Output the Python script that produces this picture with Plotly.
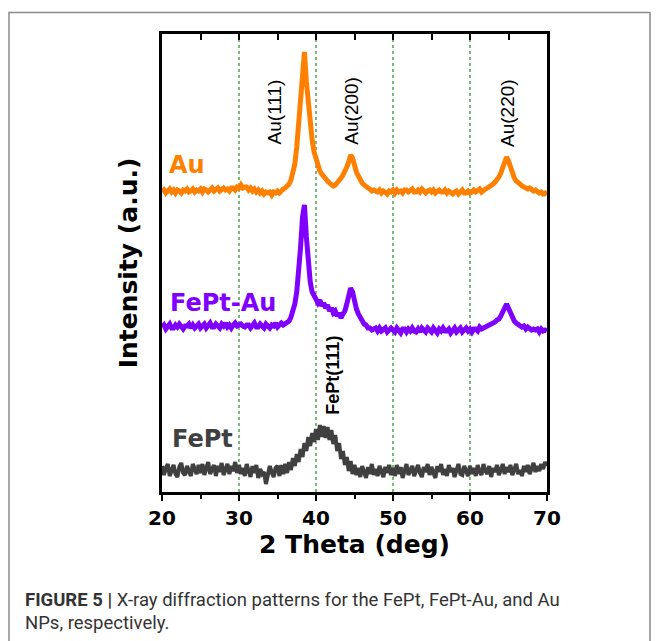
import plotly.graph_objects as go

# 2-theta grid (deg), 0.25 deg step
two_theta = [
    20.00, 20.25, 20.50, 20.75, 21.00, 21.25, 21.50, 21.75, 22.00, 22.25, 22.50, 22.75, 23.00, 23.25, 23.50, 23.75, 24.00, 24.25, 24.50, 24.75,
    25.00, 25.25, 25.50, 25.75, 26.00, 26.25, 26.50, 26.75, 27.00, 27.25, 27.50, 27.75, 28.00, 28.25, 28.50, 28.75, 29.00, 29.25, 29.50, 29.75,
    30.00, 30.25, 30.50, 30.75, 31.00, 31.25, 31.50, 31.75, 32.00, 32.25, 32.50, 32.75, 33.00, 33.25, 33.50, 33.75, 34.00, 34.25, 34.50, 34.75,
    35.00, 35.25, 35.50, 35.75, 36.00, 36.25, 36.50, 36.75, 37.00, 37.25, 37.50, 37.75, 38.00, 38.25, 38.50, 38.75, 39.00, 39.25, 39.50, 39.75,
    40.00, 40.25, 40.50, 40.75, 41.00, 41.25, 41.50, 41.75, 42.00, 42.25, 42.50, 42.75, 43.00, 43.25, 43.50, 43.75, 44.00, 44.25, 44.50, 44.75,
    45.00, 45.25, 45.50, 45.75, 46.00, 46.25, 46.50, 46.75, 47.00, 47.25, 47.50, 47.75, 48.00, 48.25, 48.50, 48.75, 49.00, 49.25, 49.50, 49.75,
    50.00, 50.25, 50.50, 50.75, 51.00, 51.25, 51.50, 51.75, 52.00, 52.25, 52.50, 52.75, 53.00, 53.25, 53.50, 53.75, 54.00, 54.25, 54.50, 54.75,
    55.00, 55.25, 55.50, 55.75, 56.00, 56.25, 56.50, 56.75, 57.00, 57.25, 57.50, 57.75, 58.00, 58.25, 58.50, 58.75, 59.00, 59.25, 59.50, 59.75,
    60.00, 60.25, 60.50, 60.75, 61.00, 61.25, 61.50, 61.75, 62.00, 62.25, 62.50, 62.75, 63.00, 63.25, 63.50, 63.75, 64.00, 64.25, 64.50, 64.75,
    65.00, 65.25, 65.50, 65.75, 66.00, 66.25, 66.50, 66.75, 67.00, 67.25, 67.50, 67.75, 68.00, 68.25, 68.50, 68.75, 69.00, 69.25, 69.50, 69.75,
    70.00,
]

# Intensities (a.u., stacked/offset as in the figure)
au_intensity = [
    300, 302, 299, 301, 303, 300, 302, 299, 302, 301, 299, 302, 301, 303, 300, 301, 303, 300, 302, 301,
    303, 300, 303, 302, 300, 302, 304, 301, 302, 304, 301, 302, 304, 302, 303, 301, 304, 304, 302, 305,
    304, 307, 304, 305, 305, 302, 304, 301, 303, 300, 302, 299, 301, 298, 300, 299, 300, 297, 300, 299,
    301, 299, 302, 303, 304, 306, 308, 312, 318, 328, 345, 370, 398, 428, 440, 410, 388, 368, 352, 340,
    332, 326, 321, 318, 315, 313, 311, 309, 308, 306, 307, 309, 312, 314, 317, 320, 325, 330, 337, 334,
    326, 320, 316, 312, 309, 307, 305, 304, 303, 301, 302, 301, 300, 302, 299, 301, 300, 298, 301, 300,
    302, 299, 302, 300, 301, 299, 302, 302, 300, 301, 303, 300, 300, 302, 300, 303, 301, 299, 301, 302,
    300, 302, 299, 301, 302, 300, 300, 302, 299, 301, 300, 298, 300, 301, 298, 300, 302, 299, 299, 301,
    299, 300, 302, 300, 301, 303, 300, 302, 303, 304, 305, 306, 308, 310, 312, 315, 319, 324, 330, 335,
    331, 324, 318, 314, 311, 310, 308, 306, 305, 304, 303, 304, 302, 301, 302, 300, 299, 300, 298, 299,
    297,
]

fept_au_intensity = [
    165, 167, 163, 165, 168, 164, 164, 167, 165, 168, 165, 163, 166, 166, 168, 164, 167, 164, 166, 168,
    164, 167, 168, 164, 166, 169, 165, 165, 168, 166, 164, 168, 166, 169, 165, 167, 164, 167, 169, 166,
    167, 168, 166, 165, 167, 167, 164, 166, 169, 165, 165, 168, 166, 164, 168, 166, 164, 167, 166, 169,
    165, 167, 169, 167, 168, 170, 171, 175, 180, 188, 200, 218, 245, 275, 287, 255, 228, 210, 200, 196,
    193, 189, 192, 186, 189, 184, 187, 181, 184, 179, 181, 176, 179, 174, 178, 181, 188, 195, 204, 200,
    190, 183, 178, 174, 172, 168, 167, 164, 164, 162, 163, 164, 161, 164, 161, 162, 164, 160, 162, 164,
    162, 160, 164, 162, 159, 163, 163, 160, 163, 161, 164, 161, 160, 163, 160, 164, 162, 160, 164, 162,
    160, 164, 162, 159, 163, 161, 164, 161, 161, 163, 159, 162, 164, 160, 162, 164, 160, 162, 164, 161,
    163, 160, 163, 163, 161, 165, 163, 164, 165, 165, 166, 168, 168, 170, 172, 173, 176, 179, 184, 188,
    184, 178, 174, 171, 169, 168, 167, 165, 166, 163, 165, 163, 162, 163, 162, 163, 160, 163, 161, 162,
    161,
]

fept_intensity = [
    26, 17, 24, 28, 16, 22, 27, 18, 15, 25, 29, 19, 17, 26, 21, 16, 28, 23, 18, 27,
    19, 28, 17, 24, 30, 18, 22, 27, 16, 26, 20, 29, 17, 24, 28, 18, 26, 21, 30, 19,
    27, 18, 24, 16, 28, 21, 15, 26, 19, 27, 14, 23, 18, 20, 8, 17, 26, 20, 15, 24,
    26, 16, 27, 18, 28, 19, 30, 22, 34, 26, 38, 30, 43, 35, 49, 41, 55, 46, 59, 50,
    63, 52, 67, 55, 66, 54, 65, 52, 62, 48, 57, 41, 49, 33, 41, 27, 35, 21, 31, 18,
    27, 17, 24, 15, 26, 20, 14, 25, 18, 28, 17, 23, 16, 26, 20, 15, 25, 19, 27, 17,
    24, 16, 27, 18, 25, 14, 21, 28, 17, 23, 26, 16, 21, 27, 19, 15, 25, 20, 28, 17,
    25, 18, 14, 26, 20, 28, 17, 23, 16, 27, 20, 24, 15, 22, 28, 18, 17, 26, 20, 16,
    26, 18, 24, 16, 27, 20, 17, 28, 21, 18, 26, 15, 24, 20, 27, 17, 22, 28, 18, 25,
    20, 27, 17, 24, 28, 18, 22, 16, 26, 20, 27, 18, 24, 29, 20, 26, 21, 28, 23, 30,
    26,
]

x_tick_vals = [20, 30, 40, 50, 60, 70]
x_tick_text = ["20", "30", "40", "50", "60", "70"]
grid_vals = [30, 40, 50, 60]

series_names = ["FePt", "FePt-Au", "Au"]
series_colors = ["#404040", "#8000FF", "#FF8000"]

# label positions (deg, a.u.)
series_label_x = [25.3, 27.9, 23.3]
series_label_y = [53, 189, 327]

peak_labels = ["Au(111)", "Au(200)", "Au(220)"]
peak_label_x = [34.6, 44.5, 64.8]
peak_label_y = [380, 381, 379]

fig = go.Figure()
widths = [4, 5, 5]
for name, col, ys, w in zip(series_names, series_colors,
                            [fept_intensity, fept_au_intensity, au_intensity], widths):
    fig.add_trace(go.Scatter(x=two_theta, y=ys, mode="lines", name=name,
                             line=dict(color=col, width=w), showlegend=False))

# invisible trace so that the top (mirror) axis with inward ticks is rendered
fig.add_trace(go.Scatter(x=two_theta, y=au_intensity, xaxis="x2", mode="lines",
                         line=dict(color="rgba(0,0,0,0)", width=0), showlegend=False,
                         hoverinfo="skip"))

bold = dict(family="DejaVu Sans", weight="bold", color="black")

fig.update_layout(
    width=659, height=641,
    margin=dict(l=162, r=112, t=34, b=149),
    paper_bgcolor="white", plot_bgcolor="white",
    xaxis=dict(
        range=[20, 70], tickvals=x_tick_vals, ticktext=x_tick_text,
        ticks="outside", ticklen=6, tickwidth=2, tickcolor="black",
        showline=True, linewidth=2.5, linecolor="black",
        showgrid=False, zeroline=False,
        minor=dict(dtick=5, tick0=20, ticks="outside", ticklen=4, tickwidth=2,
                   tickcolor="black", showgrid=False),
        tickfont=dict(size=20, **bold),
        title=dict(text="2 Theta (deg)", font=dict(size=25, **bold), standoff=4),
    ),
    xaxis2=dict(
        overlaying="x", side="top", anchor="y", range=[20, 70],
        tickvals=x_tick_vals, ticks="inside", ticklen=6, tickwidth=2, tickcolor="black",
        minor=dict(dtick=5, tick0=20, ticks="inside", ticklen=6, tickwidth=2,
                   tickcolor="black", showgrid=False),
        showticklabels=False, showline=True, linewidth=2.5, linecolor="black",
        showgrid=False, zeroline=False,
    ),
    yaxis=dict(
        range=[0, 458], showticklabels=False, ticks="",
        showline=True, mirror=True, linewidth=2.5, linecolor="black",
        showgrid=False, zeroline=False,
        title=dict(text="Intensity (a.u.)", font=dict(size=25, **bold), standoff=15),
    ),
)

# dotted green vertical grid lines
for gv in grid_vals:
    fig.add_shape(type="line", xref="x", yref="paper", x0=gv, x1=gv, y0=0, y1=1,
                  line=dict(color="#1f8a1f", width=1.2, dash="dot"), layer="below")

annotations = []
for name, col, lx, ly in zip(series_names, series_colors, series_label_x, series_label_y):
    annotations.append(dict(x=lx, y=ly, xref="x", yref="y", text=name, showarrow=False,
                            font=dict(family="DejaVu Sans", weight="bold", size=24, color=col)))
for t, lx, ly in zip(peak_labels, peak_label_x, peak_label_y):
    annotations.append(dict(x=lx, y=ly, xref="x", yref="y", text=t, showarrow=False,
                            textangle=-90,
                            font=dict(family="Arial, Liberation Sans", size=19, color="black")))
annotations.append(dict(x=42.1, y=75, xref="x", yref="y", text="FePt(111)", showarrow=False,
                        textangle=-90, xanchor="center", yanchor="bottom",
                        font=dict(family="Arial, Liberation Sans", size=18, weight="bold",
                                  color="black")))
annotations.append(dict(x=-0.361, y=-0.2358, xref="paper", yref="paper", xanchor="left",
                        yanchor="middle", showarrow=False,
                        text="<b>FIGURE 5 |</b> X-ray diffraction patterns for the FePt, FePt-Au, and Au",
                        font=dict(family="Roboto", size=18.5, color="#333333")))
annotations.append(dict(x=-0.361, y=-0.286, xref="paper", yref="paper", xanchor="left",
                        yanchor="middle", showarrow=False,
                        text="NPs, respectively.",
                        font=dict(family="Roboto", size=18.5, color="#333333")))
fig.update_layout(annotations=annotations)

fig.add_shape(type="rect", xref="paper", yref="paper",
              x0=-0.3974, x1=1.2675, y0=-0.345, y1=1.0469,
              line=dict(color="#8a8a8a", width=1.5), fillcolor="rgba(0,0,0,0)", layer="below")

fig.write_html("out.html")
